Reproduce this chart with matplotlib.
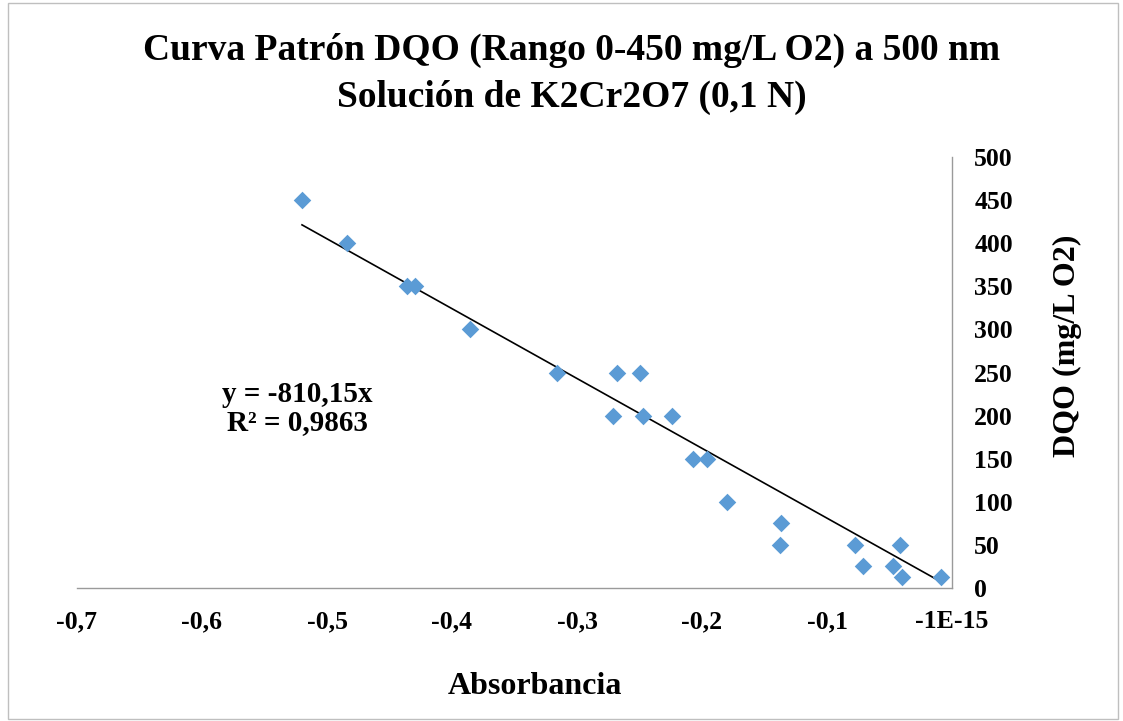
import matplotlib
matplotlib.use("Agg")
import matplotlib.pyplot as plt
from matplotlib.ticker import FuncFormatter, MultipleLocator
from matplotlib.patches import Rectangle
import numpy as np

plt.rcParams['font.family'] = ['Liberation Serif', 'DejaVu Serif']
plt.rcParams['font.weight'] = 'bold'

# absorbancia vs DQO
absorbancia = [-0.520, -0.484, -0.436, -0.430, -0.386, -0.316, -0.268, -0.250,
               -0.271, -0.247, -0.224, -0.207, -0.196, -0.180, -0.137, -0.138,
               -0.078, -0.071, -0.047, -0.042, -0.040, -0.009]
dqo = [450, 400, 350, 350, 300, 250, 250, 250,
       200, 200, 200, 150, 150, 100, 75, 50,
       50, 25, 25, 50, 12.5, 12.5]
pendiente = -810.15

fig = plt.figure(figsize=(11.23, 7.21), dpi=100)
ax = fig.add_axes([77/1123, 1-588/721, (952-77)/1123, (588-157)/721])

ax.scatter(absorbancia, dqo, marker='D', s=80, color='#5B9BD5', zorder=3, linewidths=0)
xs = np.array([min(absorbancia), max(absorbancia)])
ax.plot(xs, pendiente*xs, color='black', lw=1.2, zorder=2)

ax.set_xlim(-0.7, 0)
ax.set_ylim(0, 500)
ax.xaxis.set_major_locator(MultipleLocator(0.1))
ax.yaxis.set_major_locator(MultipleLocator(50))

def fmt_x(v, pos):
    if abs(v) < 1e-9:
        return "-1E-15"
    return ("%.1f" % v).replace(".", ",")

ax.xaxis.set_major_formatter(FuncFormatter(fmt_x))
ax.yaxis.tick_right()
ax.yaxis.set_label_position('right')
ax.tick_params(axis='both', length=0, labelsize=18.5)
ax.tick_params(axis='x', pad=16)
ax.tick_params(axis='y', pad=16)
for lab in ax.get_yticklabels():
    lab.set_horizontalalignment('left')

for s in ['top', 'left']:
    ax.spines[s].set_visible(False)
for s in ['bottom', 'right']:
    ax.spines[s].set_color('#9a9a9a')
    ax.spines[s].set_linewidth(1)

ax.set_xlabel("Absorbancia", fontsize=23, fontweight='bold')
ax.set_ylabel("DQO (mg/L O2)", fontsize=23, fontweight='bold')
ax.xaxis.set_label_coords((535-77)/875, (588-687)/431)
ax.xaxis.label.set_va('center')
ax.yaxis.set_label_coords((1067-77)/875, (588-346)/431)
ax.yaxis.label.set_va('center')

ax.text(-0.524, 208, "y = -810,15x\nR² = 0,9863", fontsize=21,
        fontweight='bold', ha='center', va='center', linespacing=1.05)

fig.text(572/1123, 1-50/721, "Curva Patrón DQO (Rango 0-450 mg/L O2) a 500 nm",
         fontsize=27, fontweight='bold', ha='center', va='center')
fig.text(572/1123, 1-97/721, "Solución de K2Cr2O7 (0,1 N)",
         fontsize=27, fontweight='bold', ha='center', va='center')

fig.patches.append(Rectangle((8/1123, 2/721), 1110/1123, 716/721, transform=fig.transFigure,
                             fill=False, edgecolor='#bfbfbf', lw=1))

fig.savefig("out.png", dpi=100)
